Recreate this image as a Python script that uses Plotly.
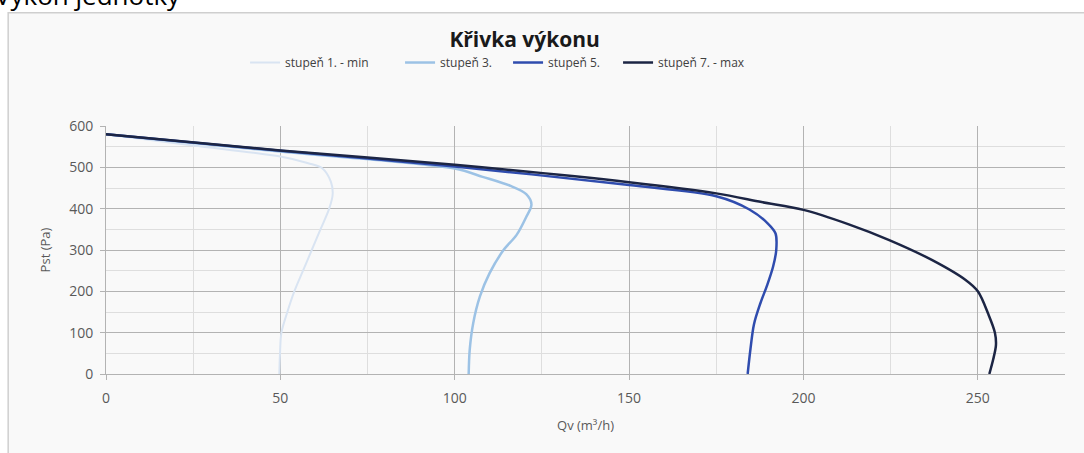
import plotly.graph_objects as go

# Křivka výkonu (Qv in m3/h, Pst in Pa)
stupen1_qv = [0, 25, 50, 58, 62, 64.5, 65, 64, 61.5, 59, 56.5, 54, 52, 50.3, 49.9, 49.7]
stupen1_pst = [580, 553, 526, 510, 498, 465, 435, 400, 350, 300, 250, 200, 150, 100, 50, 0]

stupen3_qv = [0, 50, 100, 108, 116, 120.5, 122, 120.5, 117.7, 114, 110, 107.2, 105.3, 104.3, 104]
stupen3_pst = [580, 538, 497, 477, 455, 435, 410, 380, 336, 300, 244, 187, 123, 59, 0]

stupen5_qv = [0, 50, 100, 150, 175, 184.5, 189.8, 192, 192.2, 191.3, 189.6, 187.6, 185.8, 184.8, 184]
stupen5_pst = [580, 540, 502, 457, 430, 398, 364, 340, 300, 260, 215, 170, 120, 60, 0]

stupen7_qv = [0, 50, 100, 150, 175, 188, 200, 213, 224.6, 236.8, 246.4, 250, 253, 254.9, 255.2, 254.4, 253.3]
stupen7_pst = [580, 541, 506, 464, 437, 416, 397, 362, 324, 276, 228, 200, 145, 100, 70, 35, 0]

names = ["stupeň 1. - min", "stupeň 3.", "stupeň 5.", "stupeň 7. - max"]
colors = ["#d9e4f2", "#9cc2e5", "#2f4cae", "#1c2544"]
widths = [2, 2.5, 2.5, 2.5]
legend_widths = [110, 63, 65, 110]

FONT = "'Open Sans', sans-serif"

fig = go.Figure()
curves = [(stupen1_qv, stupen1_pst), (stupen3_qv, stupen3_pst),
          (stupen5_qv, stupen5_pst), (stupen7_qv, stupen7_pst)]
for (qv, pst), name, color, width, lw in zip(curves, names, colors, widths, legend_widths):
    fig.add_trace(go.Scatter(
        x=qv, y=pst, name=name, mode="lines", legendwidth=lw,
        line=dict(color=color, width=width, shape="spline", smoothing=0.9),
    ))

# chart frame (Excel chart area)
fig.add_shape(type="rect", xref="paper", yref="paper",
              x0=-0.102, x1=1.05, y0=-0.4, y1=1.457,
              fillcolor="#f9f9f9", line=dict(color="#cfcfcf", width=1.5),
              layer="below")

# heading above the chart, partly cut off at the top
fig.add_annotation(text="Výkon jednotky", xref="paper", yref="paper",
                   x=-0.118, y=1.447, xanchor="left", yanchor="bottom",
                   showarrow=False, font=dict(family=FONT, size=26, color="#000000"))

fig.update_layout(
    width=1084, height=453,
    margin=dict(l=106, r=19, t=126, b=79, autoexpand=False),
    paper_bgcolor="#ffffff",
    plot_bgcolor="rgba(0,0,0,0)",
    font=dict(family=FONT, size=13, color="#595959"),
    title=dict(text="<b>Křivka výkonu</b>", x=0.484, xanchor="center",
               y=0.913, yanchor="middle",
               font=dict(family=FONT, size=21, color="#1a1a1a")),
    legend=dict(orientation="h", x=0.145, xanchor="left", y=1.256, yanchor="middle",
                font=dict(family=FONT, size=12, color="#404040"),
                bgcolor="rgba(0,0,0,0)", traceorder="normal"),
    showlegend=True,
)

fig.update_xaxes(
    range=[0, 275], dtick=50, tick0=0,
    showgrid=True, gridcolor="#b3b3b3", gridwidth=1,
    minor=dict(dtick=25, showgrid=True, gridcolor="#dedede", gridwidth=1),
    zeroline=False, showline=True, linecolor="#b3b3b3",
    ticks="outside", ticklen=5, tickcolor="#b3b3b3", ticklabelstandoff=6,
    title=dict(text="Qv (m³/h)", font=dict(family=FONT, size=13, color="#595959"), standoff=15),
    tickfont=dict(family=FONT, size=14, color="#595959"),
)
fig.update_yaxes(
    range=[0, 600], dtick=100, tick0=0,
    showgrid=True, gridcolor="#b3b3b3", gridwidth=1,
    minor=dict(dtick=50, showgrid=True, gridcolor="#dedede", gridwidth=1),
    zeroline=False, showline=True, linecolor="#b3b3b3",
    ticks="outside", ticklen=5, tickcolor="#b3b3b3", ticklabelstandoff=4,
    title=dict(text="Pst (Pa)", font=dict(family=FONT, size=13, color="#595959"), standoff=15),
    tickfont=dict(family=FONT, size=14, color="#595959"),
)

# the page would otherwise add the browser's default 8px body margin
fig.write_html("out.html", config={"displayModeBar": False},
               post_script="document.body.style.margin = '0';")
